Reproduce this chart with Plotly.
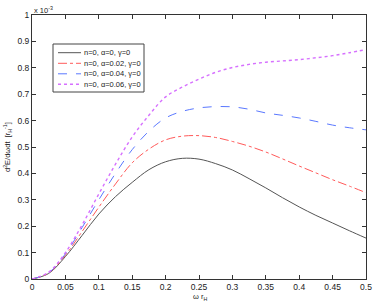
import plotly.graph_objects as go

x = [0, 0.025, 0.05, 0.075, 0.1, 0.125, 0.15, 0.175, 0.2, 0.225, 0.25, 0.275,
     0.3, 0.325, 0.35, 0.375, 0.4, 0.425, 0.45, 0.475, 0.5]
black = [0, 0.021, 0.085, 0.165, 0.246, 0.312, 0.366, 0.414, 0.444, 0.457, 0.454, 0.437,
         0.413, 0.38, 0.345, 0.308, 0.273, 0.241, 0.212, 0.183, 0.155]
red = [0, 0.023, 0.09, 0.18, 0.272, 0.36, 0.44, 0.492, 0.527, 0.541, 0.543, 0.536,
       0.521, 0.503, 0.481, 0.455, 0.428, 0.402, 0.376, 0.352, 0.327]
blue = [0, 0.024, 0.095, 0.195, 0.30, 0.40, 0.49, 0.56, 0.61, 0.635, 0.648, 0.653,
        0.652, 0.643, 0.629, 0.62, 0.61, 0.597, 0.583, 0.573, 0.565]
magenta = [0, 0.026, 0.1, 0.205, 0.322, 0.435, 0.538, 0.62, 0.69, 0.727, 0.757, 0.783,
           0.801, 0.813, 0.821, 0.826, 0.831, 0.838, 0.846, 0.857, 0.869]

names = ["n=0, α=0, γ=0", "n=0, α=0.02, γ=0", "n=0, α=0.04, γ=0", "n=0, α=0.06, γ=0"]
series = [black, red, blue, magenta]
colors = ["#555555", "#ff5a5a", "#5a78ff", "#d670ff"]
dashes = ["solid", "dashdot", "dash", "dot"]
widths = [1, 1, 1, 1.4]

xticks = [0, 0.05, 0.1, 0.15, 0.2, 0.25, 0.3, 0.35, 0.4, 0.45, 0.5]
xticklabels = ["0", "0.05", "0.1", "0.15", "0.2", "0.25", "0.3", "0.35", "0.4", "0.45", "0.5"]
yticks = [0, 0.1, 0.2, 0.3, 0.4, 0.5, 0.6, 0.7, 0.8, 0.9, 1]
yticklabels = ["0", "0.1", "0.2", "0.3", "0.4", "0.5", "0.6", "0.7", "0.8", "0.9", "1"]

W, H = 374, 304
ML, MR, MT, MB = 32, 8, 15, 25
PW, PH = W - ML - MR, H - MT - MB


def px(xp):
    return (xp - ML) / PW


def py(yp):
    return (H - MB - yp) / PH


fig = go.Figure()
for n, s, c, d, w in zip(names, series, colors, dashes, widths):
    fig.add_trace(go.Scatter(x=x, y=s, mode="lines", name=n, showlegend=False,
                             line=dict(color=c, dash=d, width=w, shape="spline", smoothing=1.0)))

axis_common = dict(showline=True, linecolor="#333", linewidth=1, mirror="ticks",
                   ticks="inside", ticklen=4, tickcolor="#333", showgrid=False,
                   zeroline=False, tickfont=dict(size=8.5, color="#222"), automargin=False)
fig.update_layout(
    width=W, height=H,
    margin=dict(l=ML, r=MR, t=MT, b=MB),
    paper_bgcolor="white", plot_bgcolor="white",
    font=dict(family="Liberation Sans, Arial, sans-serif", size=8, color="#222"),
    xaxis=dict(range=[0, 0.5], tickvals=xticks, ticktext=xticklabels, **axis_common),
    yaxis=dict(range=[0, 1], tickvals=yticks, ticktext=yticklabels, **axis_common),
    showlegend=False,
)

# custom legend box (MATLAB style)
fig.add_shape(type="rect", xref="paper", yref="paper", x0=px(53), x1=px(144), y0=py(92), y1=py(44),
              line=dict(color="#444", width=1), fillcolor="white", layer="above")
row_y = [52.7, 63.3, 73.8, 84.3]
for n, c, d, w, ry in zip(names, colors, dashes, widths, row_y):
    fig.add_shape(type="line", xref="paper", yref="paper", x0=px(58), x1=px(81), y0=py(ry), y1=py(ry),
                  line=dict(color=c, dash=d, width=w), layer="above")
    fig.add_annotation(xref="paper", yref="paper", x=px(82), y=py(ry), xanchor="left", yanchor="middle",
                       text=n, showarrow=False, font=dict(size=7.5, color="#222"))

fig.add_annotation(xref="paper", yref="paper", x=0, y=1, xanchor="left", yanchor="bottom",
                   text="x 10<sup>-3</sup>", showarrow=False, font=dict(size=7.5), yshift=-2)
fig.add_annotation(xref="paper", yref="paper", x=px(200), y=0, xanchor="center", yanchor="top",
                   text="ω r<sub>H</sub>", showarrow=False, font=dict(size=7.5), yshift=-11)
fig.add_annotation(xref="paper", yref="paper", x=0, y=0.5, xanchor="center", yanchor="middle",
                   text="d<sup>2</sup>E/dωdt  [r<sub>H</sub><sup>-1</sup>]", showarrow=False,
                   font=dict(size=7.5), textangle=-90, xshift=-25)
fig.write_html("out.html", config={"displayModeBar": False},
               post_script="document.body.style.margin='0';")
